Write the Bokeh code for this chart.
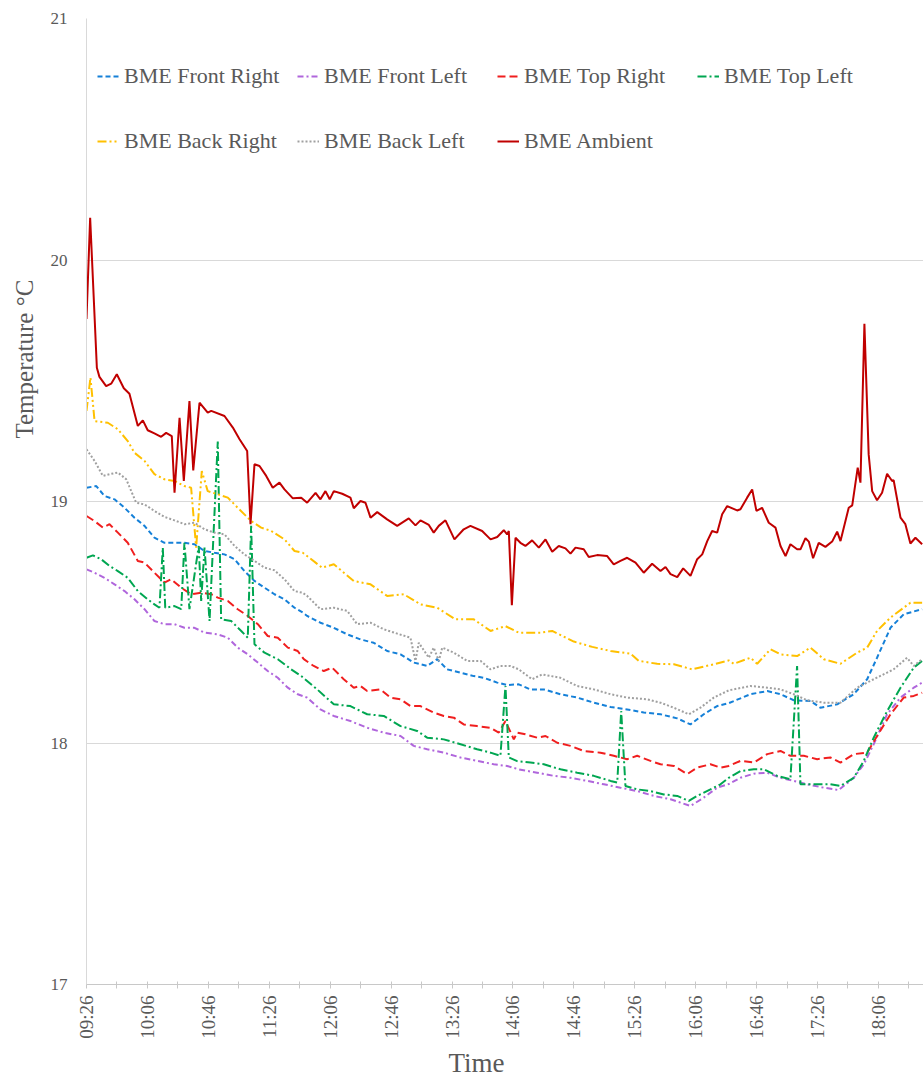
import math
from bokeh.plotting import figure
from bokeh.models import Range1d, FixedTicker, Legend, LegendItem, Title
from bokeh.embed import file_html
from bokeh.resources import INLINE

# ---------------- data (minutes after 09:26, temperature in degC) ----------------
tick_labels = ["09:26", "10:06", "10:46", "11:26", "12:06", "12:46", "13:26",
               "14:06", "14:46", "15:26", "16:06", "16:46", "17:26", "18:06"]

amb_t = [0, 2.4, 6.8, 8.5, 12.9, 16.2, 19.9, 24.5, 28.2, 33.7, 37.0, 40.2, 44.6, 49.0, 52.3, 56.0,
         57.8, 61.1, 63.9, 67.6, 70.1, 74.2, 79.6, 81.9, 90.6, 96.1, 100.5, 105.5, 107.7, 110.3,
         113.6, 118.0, 122.3, 126.7, 130.0, 135.5, 141.0, 144.9, 150.4, 153.6, 156.9, 159.7, 162.4,
         167.9, 173.3, 175.5, 179.9, 183.2, 186.5, 190.9, 197.4, 204.0, 211.6, 216.0, 219.3, 224.8,
         228.0, 231.3, 235.7, 241.6, 247.7, 252.1, 259.8, 265.3, 269.7, 274.0, 276.2, 277.3, 279.3,
         281.7, 284.9, 288.2, 292.6, 297.0, 301.4, 305.8, 310.1, 314.5, 317.8, 321.1, 326.5, 329.8,
         335.3, 341.9, 346.2, 350.6, 355.0, 360.5, 365.9, 371.4, 376.9, 380.2, 383.5, 387.9, 391.8,
         396.6, 401.0, 404.3, 407.6, 410.8, 414.1, 417.4, 420.7, 427.2, 429.4, 433.8, 437.1, 439.9,
         443.6, 448.0, 452.4, 455.7, 459.0, 462.2, 466.6, 468.8, 472.1, 474.3, 477.1, 480.8, 485.2,
         489.6, 492.9, 495.1, 500.5, 502.8, 506.4, 508.2, 510.8, 513.6, 515.9, 519.1, 522.4, 525.7,
         529.0, 530.0, 534.5, 537.7, 541.0, 544.3, 548.7]
amb_v = [19.756, 20.175, 19.554, 19.516, 19.478, 19.488, 19.527, 19.469, 19.446, 19.313, 19.336,
         19.295, 19.282, 19.268, 19.284, 19.271, 19.036, 19.347, 19.085, 19.416, 19.129, 19.409,
         19.368, 19.375, 19.354, 19.306, 19.258, 19.209, 18.906, 19.154, 19.147, 19.106, 19.057,
         19.078, 19.050, 19.013, 19.016, 18.995, 19.036, 19.009, 19.043, 19.009, 19.043, 19.032,
         19.016, 18.972, 19.002, 18.995, 18.933, 18.956, 18.926, 18.899, 18.930, 18.901, 18.922,
         18.903, 18.871, 18.899, 18.922, 18.843, 18.885, 18.899, 18.878, 18.843, 18.853, 18.881,
         18.864, 18.878, 18.571, 18.850, 18.829, 18.816, 18.839, 18.809, 18.843, 18.792, 18.816,
         18.806, 18.784, 18.809, 18.802, 18.770, 18.778, 18.774, 18.740, 18.754, 18.767, 18.747,
         18.705, 18.742, 18.712, 18.729, 18.699, 18.687, 18.723, 18.692, 18.761, 18.781, 18.836,
         18.878, 18.871, 18.947, 18.981, 18.963, 18.968, 19.016, 19.050, 18.961, 18.974, 18.912,
         18.892, 18.816, 18.774, 18.823, 18.802, 18.802, 18.848, 18.834, 18.765, 18.829, 18.812,
         18.834, 18.875, 18.836, 18.974, 18.984, 19.140, 19.078, 19.736, 19.195, 19.043, 19.005,
         19.036, 19.115, 19.085, 19.088, 18.933, 18.906, 18.826, 18.850, 18.823]

br_t = [0, 2.6, 5.3, 14.0, 20.6, 27.1, 31.5, 38.1, 44.6, 51.2, 57.8, 64.3, 68.7, 72.0, 75.7, 79.6,
        86.2, 92.8, 99.3, 108.1, 114.7, 121.3, 130.0, 136.6, 142.0, 154.7, 162.4, 175.5, 186.5,
        197.4, 208.3, 219.3, 230.3, 242.3, 254.3, 265.3, 275.1, 283.8, 298.1, 305.8, 320.0, 332.1,
        344.1, 357.2, 362.6, 374.7, 385.7, 397.7, 411.9, 421.7, 425.0, 436.0, 440.4, 449.1, 455.7,
        466.6, 475.4, 484.1, 495.1, 506.0, 512.6, 519.1, 527.9, 541.0, 548.7]
br_v = [19.375, 19.513, 19.333, 19.326, 19.299, 19.250, 19.202, 19.168, 19.113, 19.092, 19.085,
        19.064, 19.057, 18.809, 19.126, 19.043, 19.030, 19.016, 18.974, 18.919, 18.892, 18.878,
        18.843, 18.795, 18.788, 18.726, 18.740, 18.671, 18.657, 18.609, 18.616, 18.574, 18.560,
        18.512, 18.512, 18.464, 18.484, 18.457, 18.457, 18.464, 18.420, 18.398, 18.381, 18.370,
        18.340, 18.328, 18.326, 18.305, 18.326, 18.342, 18.328, 18.353, 18.328, 18.388, 18.367,
        18.360, 18.395, 18.347, 18.328, 18.374, 18.395, 18.464, 18.519, 18.581, 18.581]

bl_t = [0, 5.3, 10.7, 15.1, 20.6, 26.1, 32.6, 38.1, 44.6, 51.2, 57.8, 64.3, 70.9, 77.5, 84.0, 90.6,
        97.2, 103.7, 110.3, 116.9, 123.4, 130.0, 136.6, 142.0, 144.9, 153.6, 162.4, 171.2, 177.7,
        186.5, 195.2, 204.0, 212.7, 216.0, 218.2, 224.8, 228.0, 231.3, 233.6, 241.2, 250.0, 258.7,
        265.3, 271.8, 278.4, 283.8, 292.6, 299.2, 311.2, 322.2, 333.1, 344.1, 355.0, 368.2, 376.9,
        385.7, 395.5, 403.1, 411.9, 421.7, 436.0, 447.0, 455.7, 464.4, 473.2, 484.1, 495.1, 506.0,
        516.9, 530.0, 538.8, 543.2, 548.7]
bl_v = [19.216, 19.168, 19.106, 19.113, 19.120, 19.092, 18.995, 18.988, 18.961, 18.936, 18.922,
        18.906, 18.912, 18.885, 18.871, 18.864, 18.816, 18.781, 18.754, 18.726, 18.715, 18.678,
        18.629, 18.622, 18.609, 18.554, 18.560, 18.547, 18.492, 18.498, 18.471, 18.453, 18.436,
        18.340, 18.415, 18.353, 18.395, 18.340, 18.395, 18.374, 18.340, 18.340, 18.305, 18.319,
        18.319, 18.305, 18.264, 18.284, 18.270, 18.236, 18.222, 18.202, 18.188, 18.181, 18.167,
        18.146, 18.119, 18.146, 18.188, 18.218, 18.236, 18.229, 18.222, 18.202, 18.177, 18.167,
        18.167, 18.229, 18.264, 18.305, 18.353, 18.319, 18.347]

fr_t = [0, 6.4, 11.8, 18.4, 25.0, 31.5, 38.1, 44.6, 51.2, 57.8, 64.3, 70.9, 77.5, 84.0, 90.6, 97.2,
        103.7, 110.3, 116.9, 123.4, 130.0, 136.6, 142.0, 144.9, 153.6, 162.4, 171.2, 179.9, 188.6,
        197.4, 206.2, 214.9, 223.7, 230.3, 236.8, 245.6, 254.3, 260.9, 269.7, 276.2, 283.8, 291.5,
        300.3, 311.2, 322.2, 333.1, 344.1, 355.0, 365.9, 376.9, 387.9, 396.6, 405.3, 414.1, 421.7,
        436.0, 447.0, 455.7, 464.4, 475.4, 481.9, 492.9, 503.8, 512.6, 519.1, 527.9, 536.6, 548.7]
fr_v = [19.057, 19.064, 19.023, 19.009, 18.974, 18.933, 18.899, 18.850, 18.829, 18.829, 18.829,
        18.823, 18.795, 18.788, 18.781, 18.761, 18.712, 18.671, 18.643, 18.616, 18.595, 18.560,
        18.540, 18.526, 18.498, 18.477, 18.450, 18.429, 18.415, 18.381, 18.367, 18.333, 18.319,
        18.347, 18.305, 18.291, 18.277, 18.270, 18.250, 18.240, 18.243, 18.222, 18.222, 18.202,
        18.188, 18.167, 18.149, 18.139, 18.126, 18.119, 18.102, 18.077, 18.119, 18.153, 18.165,
        18.202, 18.215, 18.202, 18.177, 18.174, 18.146, 18.160, 18.202, 18.264, 18.353, 18.477,
        18.533, 18.554]

tr_t = [0, 5.3, 10.7, 15.1, 20.6, 27.1, 33.7, 38.1, 44.6, 51.2, 55.6, 62.2, 68.7, 75.3, 81.9, 86.2,
        92.8, 99.3, 105.9, 112.5, 119.0, 125.6, 132.2, 138.7, 142.7, 149.2, 155.8, 161.3, 168.9,
        175.5, 179.9, 184.3, 193.0, 199.6, 206.2, 212.7, 219.3, 228.0, 234.6, 241.2, 247.7, 256.5,
        265.3, 270.7, 275.1, 280.6, 282.8, 288.2, 295.9, 301.4, 309.1, 317.8, 326.5, 337.5, 346.2,
        355.0, 361.6, 370.3, 376.9, 385.7, 394.4, 401.0, 409.7, 416.3, 421.7, 429.4, 438.2, 447.0,
        455.7, 462.2, 471.0, 479.8, 488.5, 495.1, 503.8, 512.6, 519.1, 527.9, 536.6, 543.2, 548.7]
tr_v = [18.940, 18.919, 18.892, 18.906, 18.871, 18.829, 18.754, 18.747, 18.705, 18.664, 18.678,
        18.643, 18.616, 18.622, 18.616, 18.602, 18.588, 18.554, 18.526, 18.492, 18.443, 18.436,
        18.395, 18.381, 18.347, 18.319, 18.298, 18.312, 18.264, 18.229, 18.236, 18.215, 18.222,
        18.188, 18.181, 18.153, 18.153, 18.126, 18.112, 18.105, 18.077, 18.070, 18.063, 18.043,
        18.091, 18.015, 18.043, 18.036, 18.022, 18.029, 18.001, 17.988, 17.967, 17.960, 17.947,
        17.933, 17.947, 17.926, 17.912, 17.905, 17.871, 17.898, 17.912, 17.898, 17.905, 17.926,
        17.919, 17.954, 17.967, 17.947, 17.947, 17.933, 17.940, 17.919, 17.954, 17.960, 18.029,
        18.119, 18.188, 18.195, 18.208]

tl_t = [0, 4.2, 9.6, 15.1, 20.6, 27.1, 33.7, 40.2, 44.6, 47.9, 50.1, 51.7, 57.8, 62.2, 64.3, 67.6,
        73.7, 75.3, 77.5, 80.8, 86.2, 88.4, 95.0, 101.6, 105.9, 108.1, 110.3, 116.9, 125.6, 134.4,
        141.0, 151.5, 162.4, 173.3, 184.3, 195.2, 206.2, 217.1, 223.7, 234.6, 245.6, 256.5, 265.3,
        271.8, 275.1, 277.3, 282.8, 291.5, 300.3, 311.2, 322.2, 333.1, 344.1, 348.5, 351.1, 353.9,
        361.6, 370.3, 379.1, 387.9, 395.5, 401.0, 409.7, 416.3, 421.7, 429.4, 438.2, 444.8, 453.5,
        462.2, 466.6, 468.8, 479.8, 488.5, 495.1, 503.8, 510.4, 516.9, 525.7, 534.5, 543.2, 548.7]
tl_v = [18.767, 18.777, 18.761, 18.733, 18.712, 18.684, 18.629, 18.595, 18.574, 18.560, 18.809,
        18.560, 18.567, 18.554, 18.829, 18.554, 18.816, 18.588, 18.809, 18.505, 19.248, 18.512,
        18.505, 18.464, 18.436, 18.899, 18.409, 18.374, 18.347, 18.305, 18.277, 18.222, 18.160,
        18.153, 18.119, 18.112, 18.070, 18.050, 18.022, 18.015, 17.995, 17.974, 17.960, 17.947,
        18.236, 17.940, 17.925, 17.919, 17.912, 17.891, 17.877, 17.864, 17.843, 17.836, 18.132,
        17.822, 17.808, 17.801, 17.787, 17.781, 17.760, 17.781, 17.808, 17.829, 17.856, 17.884,
        17.891, 17.891, 17.864, 17.850, 18.319, 17.829, 17.829, 17.829, 17.822, 17.856, 17.926,
        18.022, 18.132, 18.229, 18.312, 18.340]

fl_t = [0, 5.3, 11.8, 18.4, 25.0, 31.5, 38.1, 44.6, 51.2, 57.8, 64.3, 70.9, 77.5, 86.2, 92.8, 99.3,
        105.9, 112.5, 119.0, 125.6, 132.2, 138.7, 144.9, 153.6, 162.4, 173.3, 184.3, 195.2, 206.2,
        214.9, 223.7, 234.6, 245.6, 256.5, 267.4, 276.2, 283.8, 295.9, 306.8, 317.8, 328.8, 339.7,
        350.6, 361.6, 372.5, 383.5, 396.6, 405.3, 414.1, 421.7, 429.4, 438.2, 447.0, 455.7, 464.4,
        473.2, 484.1, 493.9, 503.8, 510.4, 516.9, 525.7, 534.5, 543.2, 548.7]
fl_v = [18.719, 18.705, 18.684, 18.657, 18.629, 18.595, 18.554, 18.505, 18.492, 18.492, 18.477,
        18.477, 18.457, 18.450, 18.436, 18.395, 18.367, 18.333, 18.298, 18.270, 18.229, 18.202,
        18.188, 18.139, 18.112, 18.091, 18.063, 18.043, 18.029, 17.988, 17.974, 17.960, 17.940,
        17.926, 17.912, 17.905, 17.891, 17.877, 17.864, 17.856, 17.843, 17.829, 17.815, 17.801,
        17.781, 17.767, 17.739, 17.774, 17.815, 17.830, 17.856, 17.873, 17.877, 17.856, 17.843,
        17.829, 17.815, 17.805, 17.856, 17.912, 17.995, 18.119, 18.188, 18.229, 18.250]

# ---------------- figure ----------------
FONT = "Liberation Serif"
TXT = "#595959"

p = figure(width=923, height=1085, output_backend="svg", toolbar_location=None,
           x_range=Range1d(0, 549.6), y_range=Range1d(17, 21),
           min_border_left=86, min_border_right=0, min_border_top=18, min_border_bottom=101)
p.outline_line_color = None
p.background_fill_color = "white"

tick_pos = [i * 40 for i in range(len(tick_labels))]
minor_pos = [t + 20 for t in tick_pos]
p.xaxis.ticker = FixedTicker(ticks=tick_pos, minor_ticks=minor_pos)
p.xaxis.major_label_overrides = {t: lab for t, lab in zip(tick_pos, tick_labels)}
p.xaxis.major_label_orientation = math.pi / 2
p.xaxis.axis_line_color = "#C8C8C8"
p.xaxis.major_tick_line_color = "#C8C8C8"
p.xaxis.minor_tick_line_color = "#C8C8C8"
p.xaxis.major_tick_in = 3
p.xaxis.major_tick_out = 4
p.xaxis.minor_tick_in = 3
p.xaxis.minor_tick_out = 4
p.xaxis.major_label_standoff = 7
p.xaxis.major_label_text_font = FONT
p.xaxis.major_label_text_font_size = "19px"
p.xaxis.major_label_text_color = TXT
p.xgrid.visible = False

p.yaxis.ticker = FixedTicker(ticks=[17, 18, 19, 20, 21])
p.yaxis.axis_line_color = "#D9D9D9"
p.yaxis.major_tick_line_color = None
p.yaxis.minor_tick_line_color = None
p.yaxis.major_tick_in = 0
p.yaxis.major_tick_out = 0
p.yaxis.minor_tick_in = 0
p.yaxis.minor_tick_out = 0
p.yaxis.major_label_standoff = 19
p.yaxis.major_label_text_font = FONT
p.yaxis.major_label_text_font_size = "17px"
p.yaxis.major_label_text_color = TXT
p.ygrid.ticker = FixedTicker(ticks=[18, 19, 20, 21])
p.ygrid.grid_line_color = "#D9D9D9"
p.ygrid.grid_line_width = 1

series = [
    ("BME Front Right", fr_t, fr_v, "#1580D8", "5 3"),
    ("BME Front Left", fl_t, fl_v, "#B066DC", "6 3 2 3"),
    ("BME Top Right", tr_t, tr_v, "#F01E1E", "8 4"),
    ("BME Top Left", tl_t, tl_v, "#00A651", "9 3 2 3"),
    ("BME Back Right", br_t, br_v, "#FFC000", "9 3 2 3 2 3"),
    ("BME Back Left", bl_t, bl_v, "#A0A0A0", "2 2"),
    ("BME Ambient", amb_t, amb_v, "#C00000", "solid"),
]
items = []
for name, t, v, col, dash in series:
    r = p.line(t, v, line_color=col, line_width=2, line_dash=dash)
    items.append(LegendItem(label=name, renderers=[r]))

def make_legend(its, loc):
    return Legend(items=its, orientation="horizontal", location=loc,
                  label_width=173, glyph_width=22, glyph_height=20, label_height=20,
                  label_standoff=5, spacing=0, padding=0, margin=0,
                  border_line_color=None, background_fill_alpha=0,
                  label_text_font=FONT, label_text_font_size="22px",
                  label_text_color=TXT)

p.add_layout(make_legend(items[:4], (11, 895)))
p.add_layout(make_legend(items[4:], (11, 830)))

p.add_layout(Title(text="Time", align="left", offset=362, standoff=8,
                   text_font=FONT, text_font_size="27px", text_color=TXT,
                   text_font_style="normal"), "below")
p.add_layout(Title(text="Temperature \u00b0C", align="left", offset=546, standoff=16,
                   vertical_align="top",
                   text_font=FONT, text_font_size="25px", text_color=TXT,
                   text_font_style="normal"), "left")

open("out.html", "w").write(file_html(p, INLINE))
